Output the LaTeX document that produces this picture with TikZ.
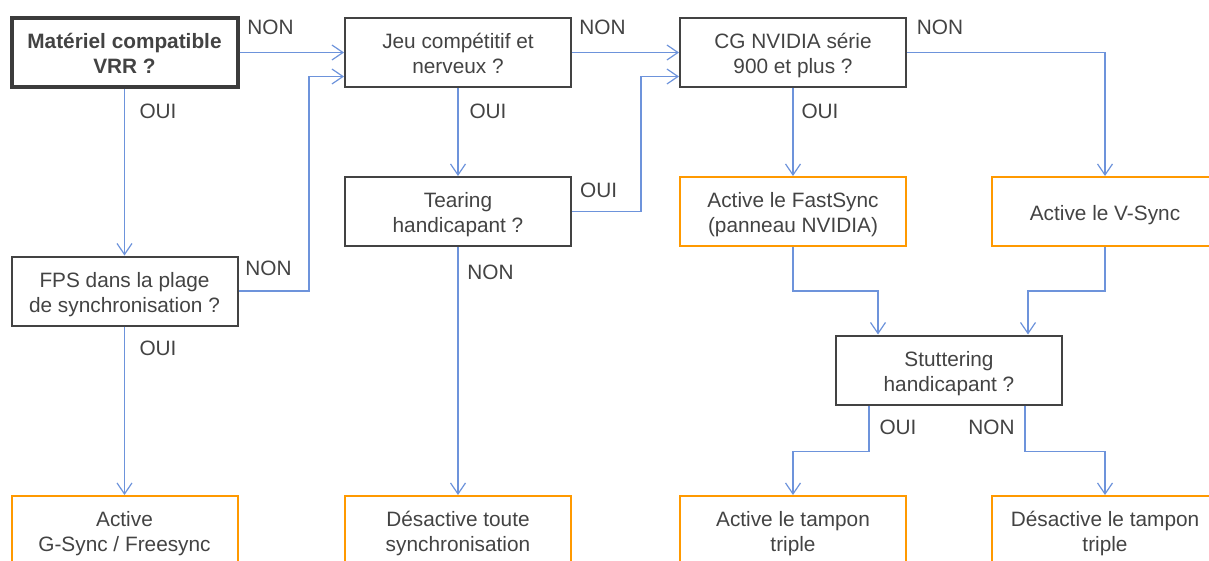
\documentclass[tikz,border=0pt]{standalone}
\usepackage{fontspec}
\setmainfont{Liberation Sans}
\usetikzlibrary{arrows.meta}
\definecolor{boxgray}{HTML}{434343}
\definecolor{flowblue}{HTML}{6D93DB}
\definecolor{actorange}{HTML}{FF9900}
\begin{document}
\begin{tikzpicture}
  [x=1pt,y=-1pt,every node/.style={text=boxgray,font=\fontsize{20.8}{25}\selectfont}]
  \tikzstyle{boxed} = [draw=boxgray,line width=2pt,minimum width=226pt,minimum height=69pt,inner sep=0pt,align=center]
  \tikzstyle{question} = [boxed,execute at begin node={\rule[-6pt]{0pt}{54pt}}]
  \tikzstyle{action} = [question,draw=actorange]
  \tikzstyle{shortaction} = [boxed,draw=actorange,execute at begin node={\rule[-6pt]{0pt}{29pt}}]
  \tikzstyle{choice} = [inner sep=0pt]
  \tikzstyle{flow} = [draw=flowblue,line width=1.2pt,-{Straight Barb[length=11pt,width=15pt]}]
  \useasboundingbox (0,0) rectangle (1209,560);
  % questions
  \node[question,line width=4pt,draw=boxgray!90!black,font=\bfseries\fontsize{20.8}{25}\selectfont] (vrr) at (124.5,52.5) {Matériel compatible\\VRR ?};
  \node[question] (jeu) at (458,52.5) {Jeu compétitif et\\nerveux ?};
  \node[question] (cg) at (793,52.5) {CG NVIDIA série\\900 et plus ?};
  \node[question] (fps) at (124.5,291) {FPS dans la plage\\de synchronisation ?};
  \node[question] (tearing) at (458,211.5) {Tearing\\handicapant ?};
  \node[question] (stutter) at (949,370) {Stuttering\\handicapant ?};
  % actions
  \node[action] (fastsync) at (793,211.5) {Active le FastSync\\(panneau NVIDIA)};
  \node[shortaction] (vsync) at (1105,211.5) {Active le V-Sync};
  \node[action] (gsync) at (124.5,530.5) {Active\\G-Sync / Freesync};
  \node[action] (desync) at (458,530.5) {Désactive toute\\synchronisation};
  \node[action] (tampon) at (793,530.5) {Active le tampon\\triple};
  \node[action] (notampon) at (1105,530.5) {Désactive le tampon\\triple};
  % straight connectors
  \foreach \source/\dest in {vrr/jeu,jeu/cg,vrr/fps,fps/gsync,jeu/tearing,tearing/desync,cg/fastsync}
   \draw[flow] (\source) -- (\dest);
  % elbow connectors
  \draw[flow] (fps.east) -- ++(70.5,0) |- ([yshift=-24pt]jeu.west);
  \draw[flow] (tearing.east) -- ++(69,0) |- ([yshift=-24pt]cg.west);
  \draw[flow] (cg.east) -| (vsync.north);
  \draw[flow] (fastsync.south) -- ++(0,44) -| ([xshift=-71pt]stutter.north);
  \draw[flow] (vsync.south) -- ++(0,44) -| ([xshift=79pt]stutter.north);
  \draw[flow] ([xshift=-80pt]stutter.south) -- ++(0,46) -| (tampon.north);
  \draw[flow] ([xshift=76pt]stutter.south) -- ++(0,46) -| (notampon.north);
  % answers
  \foreach \name/\x/\y/\txt in {c1/270.5/27/NON,c2/158/111/OUI,c3/268.5/268/NON,c4/158/348/OUI,
    c5/602.5/27/NON,c6/488/111/OUI,c7/598.7/190/OUI,c8/490.5/272/NON,
    c9/940/27/NON,c10/820/111/OUI,c11/898/427/OUI,c12/991.5/427/NON}
   \node[choice] (\name) at (\x,\y) {\txt};
\end{tikzpicture}
\end{document}
